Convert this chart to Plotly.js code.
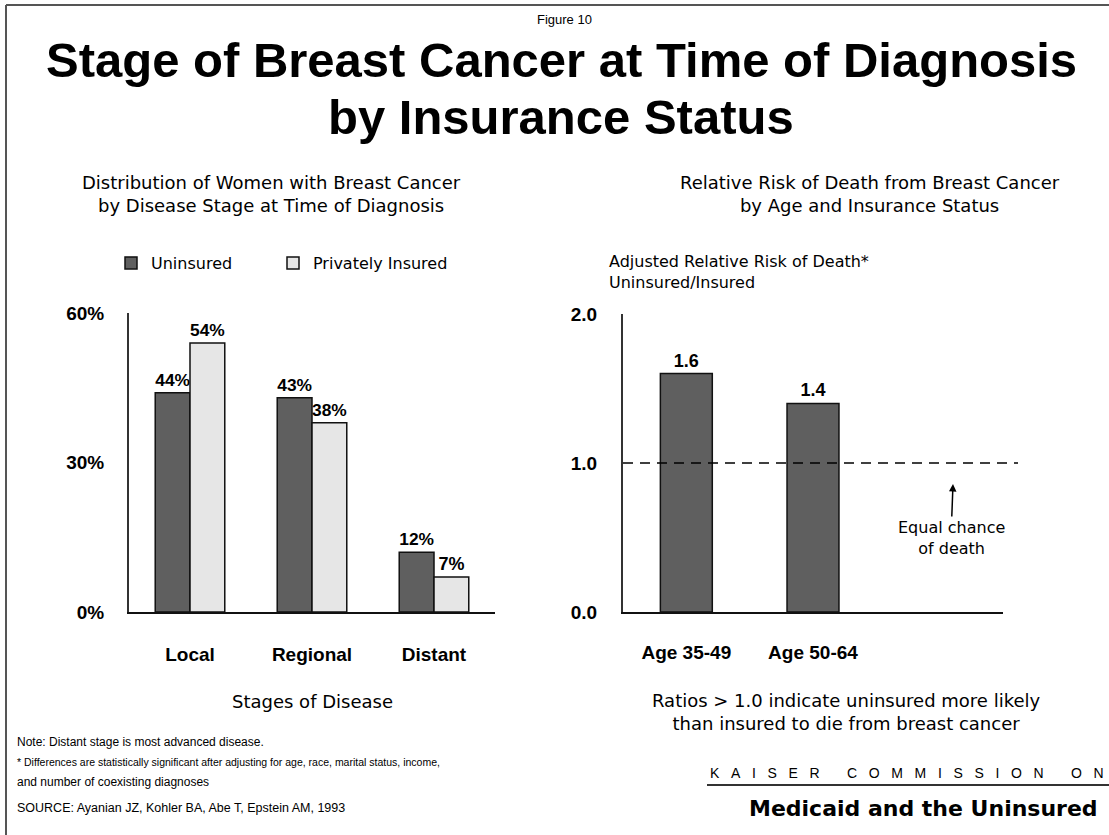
<!DOCTYPE html>
<html>
<head>
<meta charset="utf-8">
<script src="https://cdn.plot.ly/plotly-3.0.1.min.js"></script>
<style>
  html, body { margin: 0; padding: 0; background: #fff; }
  #chart { width: 1109px; height: 835px; }
</style>
</head>
<body>
<div id="chart"></div>
<script>
  // ─── Data ────────────────────────────────────────────────────────────────────
  var stages       = ['Local', 'Regional', 'Distant'];
  var uninsured    = [44, 43, 12];
  var privately    = [54, 38, 7];
  var pctTicks     = [0, 30, 60];

  var ageGroups    = ['Age 35-49', 'Age 50-64'];
  var riskRatio    = [1.6, 1.4];
  var riskTicks    = [0, 1, 2];
  var riskTickText = ['0.0', '1.0', '2.0'];
  var equalRisk    = 1.0;

  // ─── Helpers: pixel -> paper (margins are zero, so paper = whole figure) ────
  var W = 1109, H = 835;
  function px(x) { return x / W; }
  function py(y) { return 1 - y / H; }

  var DARK   = '#5f5f5f';
  var LIGHT  = '#e6e6e6';
  var EDGE   = '#111';
  var ARIAL  = 'Liberation Sans, Arial, sans-serif';
  var PLAIN  = 'DejaVu Sans, sans-serif';
  var NARROW = 'Liberation Sans Narrow, Liberation Sans, sans-serif';

  function note(text, x, y, size, family, anchor, extra) {
    var a = {
      text: text, xref: 'paper', yref: 'paper', x: px(x), y: py(y),
      xanchor: anchor || 'center', yanchor: 'middle', showarrow: false,
      font: { family: family || PLAIN, size: size || 16, color: '#000' }
    };
    if (extra) for (var k in extra) a[k] = extra[k];
    return a;
  }

  // letter-spaced caps for the Kaiser masthead
  function spaced(words) {
    return words.map(function (w) {
      return w.split('').join('&nbsp;&nbsp;&nbsp;');
    }).join('&nbsp;&nbsp;&nbsp;&nbsp;&nbsp;&nbsp;&nbsp;');
  }

  function legendBox(x) {
    return {
      orientation: 'h', x: px(x), y: py(263), xanchor: 'left', yanchor: 'middle',
      font: { family: PLAIN, size: 16, color: '#000' }, bgcolor: 'rgba(0,0,0,0)'
    };
  }

  // ─── Traces ──────────────────────────────────────────────────────────────────
  var labelFont = { family: ARIAL, size: 18, weight: 'bold', color: '#000' };

  var traces = [
    {
      type: 'bar', name: 'Uninsured', x: stages, y: uninsured,
      xaxis: 'x', yaxis: 'y', legend: 'legend',
      marker: { color: DARK, line: { color: EDGE, width: 1.5 } },
      text: uninsured.map(function (v) { return v + '%'; }),
      textposition: 'outside', cliponaxis: false, textfont: labelFont,
      hoverinfo: 'skip'
    },
    {
      type: 'bar', name: 'Privately Insured', x: stages, y: privately,
      xaxis: 'x', yaxis: 'y', legend: 'legend2',
      marker: { color: LIGHT, line: { color: EDGE, width: 1.5 } },
      text: privately.map(function (v) { return v + '%'; }),
      textposition: 'outside', cliponaxis: false, textfont: labelFont,
      hoverinfo: 'skip'
    },
    {
      type: 'bar', name: 'Relative risk', x: [0, 1], y: riskRatio, width: 0.41,
      xaxis: 'x2', yaxis: 'y2', showlegend: false,
      marker: { color: DARK, line: { color: EDGE, width: 1.5 } },
      text: riskRatio.map(function (v) { return v.toFixed(1); }),
      textposition: 'outside', cliponaxis: false, textfont: labelFont,
      hoverinfo: 'skip'
    }
  ];

  // ─── Layout ──────────────────────────────────────────────────────────────────
  var tickFont  = { family: ARIAL, size: 19, weight: 'bold', color: '#000' };
  var titleFont = { family: ARIAL, size: 49, weight: 'bold', color: '#000' };

  var layout = {
    width: W, height: H,
    margin: { l: 0, r: 0, t: 0, b: 0 },
    paper_bgcolor: '#fff', plot_bgcolor: '#fff',
    barmode: 'group', bargap: 0.43, bargroupgap: 0,
    showlegend: true,
    legend:  legendBox(111),
    legend2: legendBox(273),
    xaxis: {
      domain: [px(129), px(495)], anchor: 'y',
      showline: true, linecolor: '#111', linewidth: 2,
      showgrid: false, zeroline: false, ticks: '',
      tickfont: tickFont, ticklabelstandoff: 24, fixedrange: true
    },
    yaxis: {
      domain: [py(612), py(313)], anchor: 'x', range: [0, 60],
      tickmode: 'array', tickvals: pctTicks,
      ticktext: pctTicks.map(function (v) { return v + '%'; }),
      showline: true, linecolor: '#333', linewidth: 2,
      showgrid: false, zeroline: false, ticks: '',
      tickfont: tickFont, ticklabelstandoff: 19, fixedrange: true
    },
    xaxis2: {
      domain: [px(623), px(1003)], anchor: 'y2', range: [-0.5, 2.5],
      tickmode: 'array', tickvals: [0, 1], ticktext: ageGroups,
      showline: true, linecolor: '#111', linewidth: 2,
      showgrid: false, zeroline: false, ticks: '',
      tickfont: tickFont, ticklabelstandoff: 22, fixedrange: true
    },
    yaxis2: {
      domain: [py(612), py(314)], anchor: 'x2', range: [0, 2],
      tickmode: 'array', tickvals: riskTicks, ticktext: riskTickText,
      showline: true, linecolor: '#333', linewidth: 2,
      showgrid: false, zeroline: false, ticks: '',
      tickfont: tickFont, ticklabelstandoff: 20, fixedrange: true
    },
    shapes: [
      // frame
      { type: 'line', xref: 'paper', yref: 'paper', x0: px(6), x1: 1, y0: py(5), y1: py(5),
        line: { color: '#555', width: 2 } },
      { type: 'line', xref: 'paper', yref: 'paper', x0: px(6), x1: px(6), y0: py(5), y1: 0,
        line: { color: '#555', width: 2 } },
      // equal-risk reference line
      { type: 'line', xref: 'paper', yref: 'y2', x0: px(623), x1: px(1018), y0: equalRisk, y1: equalRisk,
        line: { color: '#000', width: 1.5, dash: '10px,7px' } },
      // Kaiser underline
      { type: 'line', xref: 'paper', yref: 'paper', x0: px(707), x1: 1, y0: py(785), y1: py(785),
        line: { color: '#333', width: 2 } }
    ],
    annotations: [
      note('Figure 10', 564, 19, 13, NARROW),
      note('Stage of Breast Cancer at Time of Diagnosis', 561, 60, 49, ARIAL, 'center', { font: titleFont }),
      note('by Insurance Status', 561, 117, 49, ARIAL, 'center', { font: titleFont }),

      note('Distribution of Women with Breast Cancer<br>by Disease Stage at Time of Diagnosis',
           271, 194, 18, PLAIN),
      note('Relative Risk of Death from Breast Cancer<br>by Age and Insurance Status',
           870, 194, 18, PLAIN),

      note('Adjusted Relative Risk of Death*<br>Uninsured/Insured', 607, 272, 16, PLAIN, 'left',
           { align: 'left' }),

      note('Stages of Disease', 312, 701, 18, PLAIN),
      note('Ratios > 1.0 indicate uninsured more likely<br>than insured to die from breast cancer',
           846, 712, 18, PLAIN),

      // arrow + label
      { text: 'Equal chance<br>of death', xref: 'paper', yref: 'paper',
        x: px(953), y: py(484), ax: -2, ay: 54, axref: 'pixel', ayref: 'pixel',
        showarrow: true, arrowhead: 2, arrowsize: 1, arrowwidth: 1.5, arrowcolor: '#000',
        font: { family: PLAIN, size: 16, color: '#000' } },

      note('Note: Distant stage is most advanced disease.', 15, 742, 12, NARROW, 'left'),
      note('* Differences are statistically significant after adjusting for age, race, marital status, income,',
           15, 762, 10.5, NARROW, 'left'),
      note('and number of coexisting diagnoses', 15, 782, 12, NARROW, 'left'),
      note('SOURCE: Ayanian JZ, Kohler BA, Abe T, Epstein AM, 1993', 15, 808, 12.5, NARROW, 'left'),

      note(spaced(['KAISER', 'COMMISSION', 'ON']), 1106, 773, 14, ARIAL, 'right'),
      note('Medicaid and the Uninsured', 1100, 808, 22, PLAIN, 'right',
           { font: { family: PLAIN, size: 22, weight: 'bold', color: '#000' } })
    ]
  };

  Plotly.newPlot('chart', traces, layout, { displayModeBar: false, staticPlot: true });
</script>
</body>
</html>
